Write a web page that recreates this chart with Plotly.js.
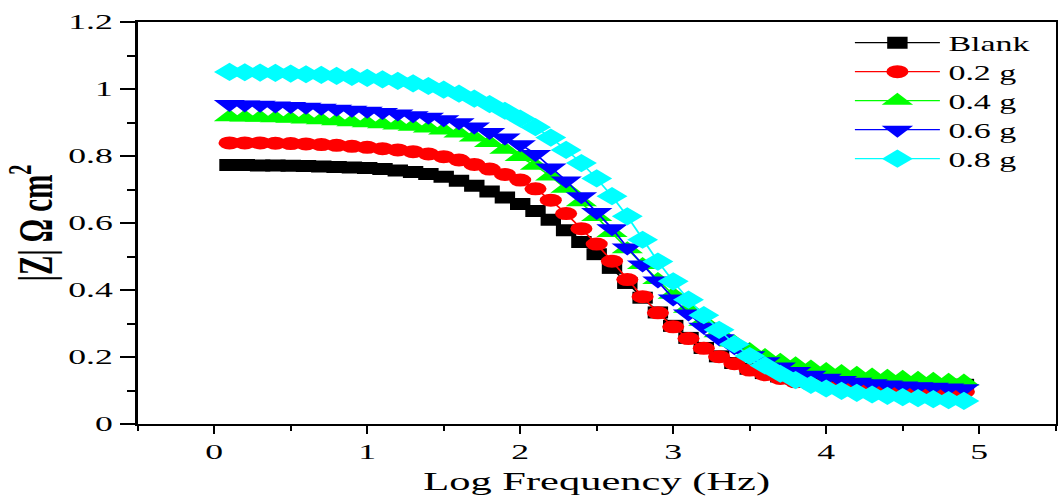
<!DOCTYPE html>
<html>
<head>
<meta charset="utf-8">
<script src="https://cdn.plot.ly/plotly-3.0.1.min.js"></script>
<style>
  html, body { margin: 0; padding: 0; background: #fff; overflow: hidden; }
  #wrap { width: 623px; height: 497px; transform: scaleX(1.7); transform-origin: 0 0; }
</style>
</head>
<body>
<div id="wrap"></div>
<script>
// Log frequency (Hz)
const logFreq = [0.1,0.2,0.3,0.4,0.5,0.6,0.7,0.8,0.9,1.0,
                 1.1,1.2,1.3,1.4,1.5,1.6,1.7,1.8,1.9,2.0,
                 2.1,2.2,2.3,2.4,2.5,2.6,2.7,2.8,2.9,3.0,
                 3.1,3.2,3.3,3.4,3.5,3.6,3.7,3.8,3.9,4.0,
                 4.1,4.2,4.3,4.4,4.5,4.6,4.7,4.8,4.9];

const seriesNames = ["Blank", "0.2 g", "0.4 g", "0.6 g", "0.8 g"];

const blank = [0.773,0.773,0.772,0.772,0.771,0.770,0.769,0.767,0.766,0.764,
               0.761,0.757,0.752,0.746,0.738,0.726,0.711,0.694,0.676,0.657,
               0.636,0.610,0.578,0.543,0.507,0.466,0.421,0.377,0.333,0.293,
               0.257,0.227,0.202,0.182,0.165,0.152,0.142,0.135,0.130,0.126,
               0.123,0.121,0.120,0.119,0.118,0.118,0.117,0.117,0.117];

const g02 = [0.839,0.839,0.839,0.838,0.837,0.836,0.834,0.832,0.829,0.826,
             0.822,0.818,0.813,0.806,0.798,0.788,0.775,0.761,0.745,0.728,
             0.702,0.668,0.628,0.583,0.537,0.486,0.431,0.380,0.332,0.290,
             0.255,0.226,0.201,0.180,0.161,0.147,0.136,0.126,0.118,0.112,
             0.108,0.105,0.103,0.101,0.100,0.099,0.098,0.097,0.096];

const g04 = [0.916,0.915,0.914,0.913,0.911,0.909,0.907,0.904,0.901,0.898,
             0.895,0.891,0.887,0.882,0.876,0.867,0.855,0.839,0.819,0.797,
             0.771,0.739,0.702,0.662,0.618,0.570,0.522,0.475,0.430,0.386,
             0.344,0.305,0.271,0.243,0.221,0.203,0.189,0.178,0.169,0.161,
             0.155,0.150,0.145,0.141,0.138,0.135,0.132,0.129,0.127];

const g06 = [0.955,0.954,0.953,0.951,0.949,0.947,0.944,0.941,0.938,0.935,
             0.931,0.927,0.922,0.917,0.910,0.901,0.888,0.872,0.855,0.835,
             0.806,0.766,0.727,0.680,0.633,0.584,0.527,0.476,0.428,0.375,
             0.330,0.290,0.256,0.229,0.205,0.187,0.172,0.158,0.147,0.138,
             0.131,0.126,0.122,0.118,0.115,0.113,0.111,0.109,0.107];

const g08 = [1.051,1.050,1.049,1.048,1.046,1.044,1.042,1.039,1.036,1.033,
             1.029,1.024,1.017,1.009,0.998,0.986,0.971,0.955,0.935,0.912,
             0.886,0.855,0.818,0.779,0.733,0.680,0.620,0.550,0.485,0.426,
             0.371,0.325,0.281,0.238,0.203,0.175,0.150,0.131,0.117,0.106,
             0.099,0.093,0.088,0.084,0.080,0.077,0.074,0.071,0.069];

const xTickVals = [0, 1, 2, 3, 4, 5];
const yTickVals = [0, 0.2, 0.4, 0.6, 0.8, 1, 1.2];
const yTickText = ["0", "0.2", "0.4", "0.6", "0.8", "1", "1.2"];

const colors = ["#000000", "#ff0000", "#00ff00", "#0000ff", "#00ffff"];
const symbols = ["square", "circle", "triangle-up", "triangle-down", "diamond"];
const sizes = [12, 13, 16, 16, 14];
const values = [blank, g02, g04, g06, g08];

const FONT = "Liberation Serif, Times New Roman, serif";

const traces = values.map((v, i) => ({
  type: "scatter",
  mode: "lines+markers",
  name: seriesNames[i],
  x: logFreq,
  y: v,
  line: { color: colors[i], width: 1.2 },
  marker: { color: colors[i], symbol: symbols[i], size: sizes[i], line: { width: 0 } }
}));

const layout = {
  width: 623,
  height: 497,
  margin: { l: 81, r: 2, t: 22, b: 73 },
  paper_bgcolor: "#ffffff",
  plot_bgcolor: "#ffffff",
  font: { family: FONT, color: "#000000", size: 21 },
  showlegend: true,
  legend: {
    x: 0.772, y: 0.997, xanchor: "left", yanchor: "top",
    bgcolor: "rgba(255,255,255,0)",
    font: { family: FONT, size: 20, color: "#000" },
    itemwidth: 50,
    tracegroupgap: 0
  },
  xaxis: {
    range: [-0.5, 5.5],
    tickvals: xTickVals,
    ticktext: xTickVals.map(String),
    ticks: "outside", ticklen: 8, tickwidth: 1.2, tickcolor: "#000",
    minor: { dtick: 0.5, tick0: 0, ticks: "outside", ticklen: 5, tickwidth: 1.2, tickcolor: "#000" },
    showline: true, linewidth: 2, linecolor: "#000", mirror: true,
    showgrid: false, zeroline: false,
    tickfont: { family: FONT, size: 21, color: "#000" },
    title: { text: "Log Frequency (Hz)", font: { family: FONT, size: 25, color: "#000" }, standoff: 9 }
  },
  yaxis: {
    range: [0, 1.2],
    tickvals: yTickVals,
    ticktext: yTickText,
    ticks: "outside", ticklen: 9, tickwidth: 2, tickcolor: "#000",
    minor: { dtick: 0.1, tick0: 0, ticks: "outside", ticklen: 5, tickwidth: 2, tickcolor: "#000" },
    showline: true, linewidth: 1.4, linecolor: "#000", mirror: true,
    showgrid: false, zeroline: false,
    tickfont: { family: FONT, size: 21, color: "#000" },
    title: { text: "<b>|Z| Ω cm<sup>2</sup></b>", font: { family: FONT, size: 29, color: "#000" }, standoff: 0 }
  }
};

Plotly.newPlot("wrap", traces, layout, { displayModeBar: false, staticPlot: true });
</script>
</body>
</html>
